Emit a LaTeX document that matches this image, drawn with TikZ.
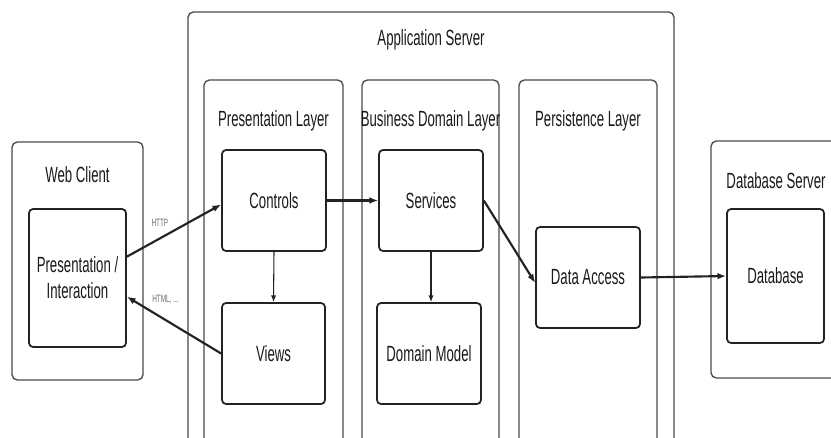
\documentclass[tikz,border=0pt]{standalone}
\usepackage{fontspec}
\setmainfont{Liberation Sans}[FakeStretch=0.6]
\usetikzlibrary{calc,arrows.meta,positioning}
\definecolor{linec}{HTML}{222222}
\definecolor{framec}{HTML}{4A4A4A}
\definecolor{txtc}{HTML}{1A1A1A}
\definecolor{lblc}{HTML}{6B6B6B}
\newcommand{\mainsz}{\fontsize{16.5}{19.5}\selectfont}
\tikzset{
  ar/.style={-{Latex[length=6.5pt,width=5pt]},line width=1.6pt,linec},
  arthin/.style={-{Latex[length=5pt,width=3.8pt]},line width=0.8pt,linec},
  frame/.style={draw=framec,line width=1pt,rounded corners=4pt,fill=white},
  box/.style={draw=linec,line width=1.3pt,rounded corners=3pt,fill=white,align=center,text=txtc,font=\mainsz},
  ttl/.style={anchor=base,text=txtc,font=\mainsz,inner sep=0pt},
  lbl/.style={font=\fontsize{8}{9}\selectfont,text=lblc,inner sep=1pt},
  sz/.style 2 args={minimum width=#1*0.75pt,minimum height=#2*0.75pt,inner sep=0pt}
}

\begin{document}
\begin{tikzpicture}[x=0.75pt,y=-0.75pt]
\useasboundingbox (0,0) rectangle (831,437);
\fill[white] (0,0) rectangle (831,437);
\clip (0,0) rectangle (831,437);
% outer frames
\node[frame,sz={131}{238}] (webclient) at (77.5,261) {};
\node[frame,sz={486}{470}] (appserver) at (431,247) {};
\node[frame,sz={139}{380}] (prelayer) at (273.5,270) {};
\node[frame,sz={137}{380}] (buslayer) at (430.5,270) {};
\node[frame,sz={138}{380}] (perlayer) at (588,270) {};
\node[frame,sz={130}{237}] (dbserver) at (776,259.5) {};
% titles
\node[ttl] (webtitle) at (77.5,182) {Web Client};
\node[ttl] (apptitle) at (431,45) {Application Server};
\node[ttl] (pretitle) at (273.5,126) {Presentation Layer};
\node[ttl] (bustitle) at (430.5,126) {Business Domain Layer};
\node[ttl] (pertitle) at (588,126) {Persistence Layer};
\node[ttl] (dbtitle) at (776,188) {Database Server};
% components
\node[box,sz={97}{138}] (presint) at (77.5,278) {Presentation /\\Interaction};
\node[box,sz={104}{101}] (controls) at (274,200.5) {Controls};
\node[box,sz={103}{101}] (views) at (273.5,353.5) {Views};
\node[box,sz={104}{101}] (services) at (431,200.5) {Services};
\node[box,sz={104}{101}] (domain) at (429,353.5) {Domain Model};
\node[box,sz={104}{101}] (dataaccess) at (588,277.5) {Data Access};
\node[box,sz={97}{134}] (database) at (775.5,276) {Database};
% connectors
\draw[ar] ([yshift=16pt]presint.east) -- ([yshift=-3pt]controls.west)
  node[lbl,pos=0.35,yshift=11.7pt] (httplbl) {HTTP};
\draw[ar] (views.west) -- ([yshift=-14pt]presint.east)
  node[lbl,pos=0.59,yshift=15pt] (htmllbl) {HTML, ...};
\draw[arthin] (controls.south) -- (views.north);
\draw[ar] (controls.east) -- (services.west);
\draw[arthin] (services.south) -- (services.south |- domain.north);
\draw[ar] (services.east) -- ([yshift=-4pt]dataaccess.west);
\draw[ar] (dataaccess.east) -- (database.west);
\end{tikzpicture}
\end{document}
